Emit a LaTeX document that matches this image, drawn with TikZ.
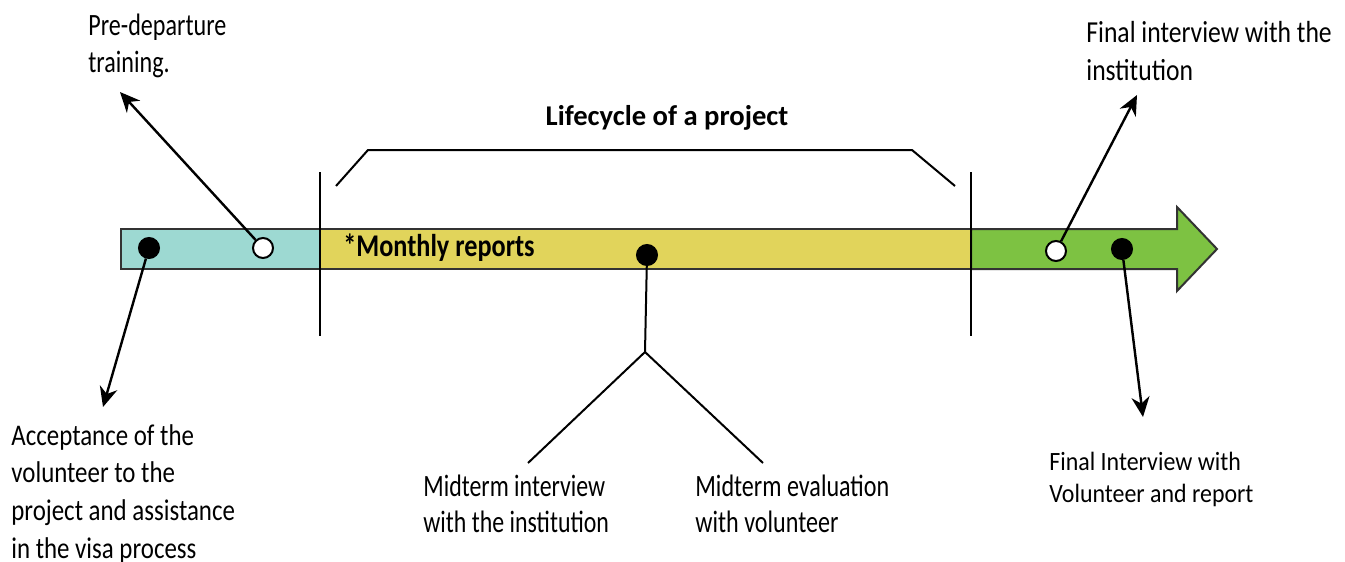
\documentclass[tikz,border=0pt]{standalone}
\usepackage{fontspec}
\setmainfont{Carlito}
\usetikzlibrary{arrows.meta}
\newcommand{\lblfont}[3]{\fontsize{#1}{#2}\selectfont\addfontfeatures{FakeStretch=#3}}
\tikzset{
	dotfull/.style={circle,draw=black,fill=black,line width=1pt,minimum size=10pt,inner sep=0pt},
	dotopen/.style={circle,draw=black,fill=white,line width=1pt,minimum size=10pt,inner sep=0pt},
	pointer/.style={line width=1.2pt,-{Stealth[length=10pt,width=9pt]}},
	label/.style={anchor=north west,inner sep=0pt,align=left},
	bar/.style={draw=black!80,line width=1pt},
}
\begin{document}
\begin{tikzpicture}[x=0.5pt,y=-0.5pt]
		\definecolor{teal1}{HTML}{9DD9D2}
		\definecolor{yellow1}{HTML}{E1D45B}
		\definecolor{green1}{HTML}{7DC242}
		\useasboundingbox (0,0) rectangle (1345,562);
		\draw[bar,fill=teal1] (121,229) rectangle (320,269);
		\draw[bar,fill=yellow1] (320,229) rectangle (971,269);
		\draw[bar,fill=green1] (971,229) -- (1177,229) -- (1177,207) -- (1217,249) -- (1177,291) -- (1177,269) -- (971,269) -- cycle;
		\draw[line width=1pt] (320,172) -- (320,336);
		\draw[line width=1pt] (971,172) -- (971,336);
		\draw[line width=1pt] (336,186) -- (368,150) -- (912,150) -- (955,186);
		\node[font=\lblfont{14.3}{17}{1.0}\bfseries,anchor=base,inner sep=0pt] (title) at (667,125) {Lifecycle of a project};
		\node[font=\lblfont{15.8}{18}{0.83}\bfseries,anchor=west,inner sep=0pt] (monthly) at (343,248) {*Monthly reports};
		\node[dotfull] (accept) at (149,248) {};
		\node[dotopen] (training) at (263,248) {};
		\node[dotfull] (midterm) at (647,255) {};
		\node[dotopen] (finalinst) at (1056,251) {};
		\node[dotfull] (finalvol) at (1122,249) {};
		\coordinate (fork) at (645,352);
		\coordinate (tipaccept) at (103,407);
		\coordinate (tiptraining) at (120,92);
		\coordinate (tipinst) at (1137,95);
		\coordinate (tipvol) at (1143,417);
		\draw[pointer] (accept) -- (tipaccept);
		\draw[pointer] (training) -- (tiptraining);
		\draw[pointer] (finalinst) -- (tipinst);
		\draw[pointer] (finalvol) -- (tipvol);
		\draw[line width=1pt] (midterm) -- (fork) -- (528,463);
		\draw[line width=1pt] (fork) -- (763,463);
		\node[label,font=\lblfont{15.5}{18.5}{0.777}] (lbltraining) at (88,14) {Pre-departure\\training.};
		\node[label,font=\lblfont{15.25}{19}{0.84}] (lblinst) at (1086,20.5) {Final interview with the\\institution};
		\node[label,font=\lblfont{15}{18.8}{0.83}] (lblaccept) at (11,424) {Acceptance of the\\volunteer to the\\project and assistance\\in the visa process};
		\node[label,font=\lblfont{15.5}{18}{0.77}] (lblmidinst) at (423,475) {Midterm interview\\with the institution};
		\node[label,font=\lblfont{15.5}{18}{0.777}] (lblmideval) at (695,475) {Midterm evaluation\\with volunteer};
		\node[label,font=\lblfont{13.2}{16}{0.905}] (lblvol) at (1049,452) {Final Interview with\\Volunteer and report};
	\end{tikzpicture}
\end{document}
